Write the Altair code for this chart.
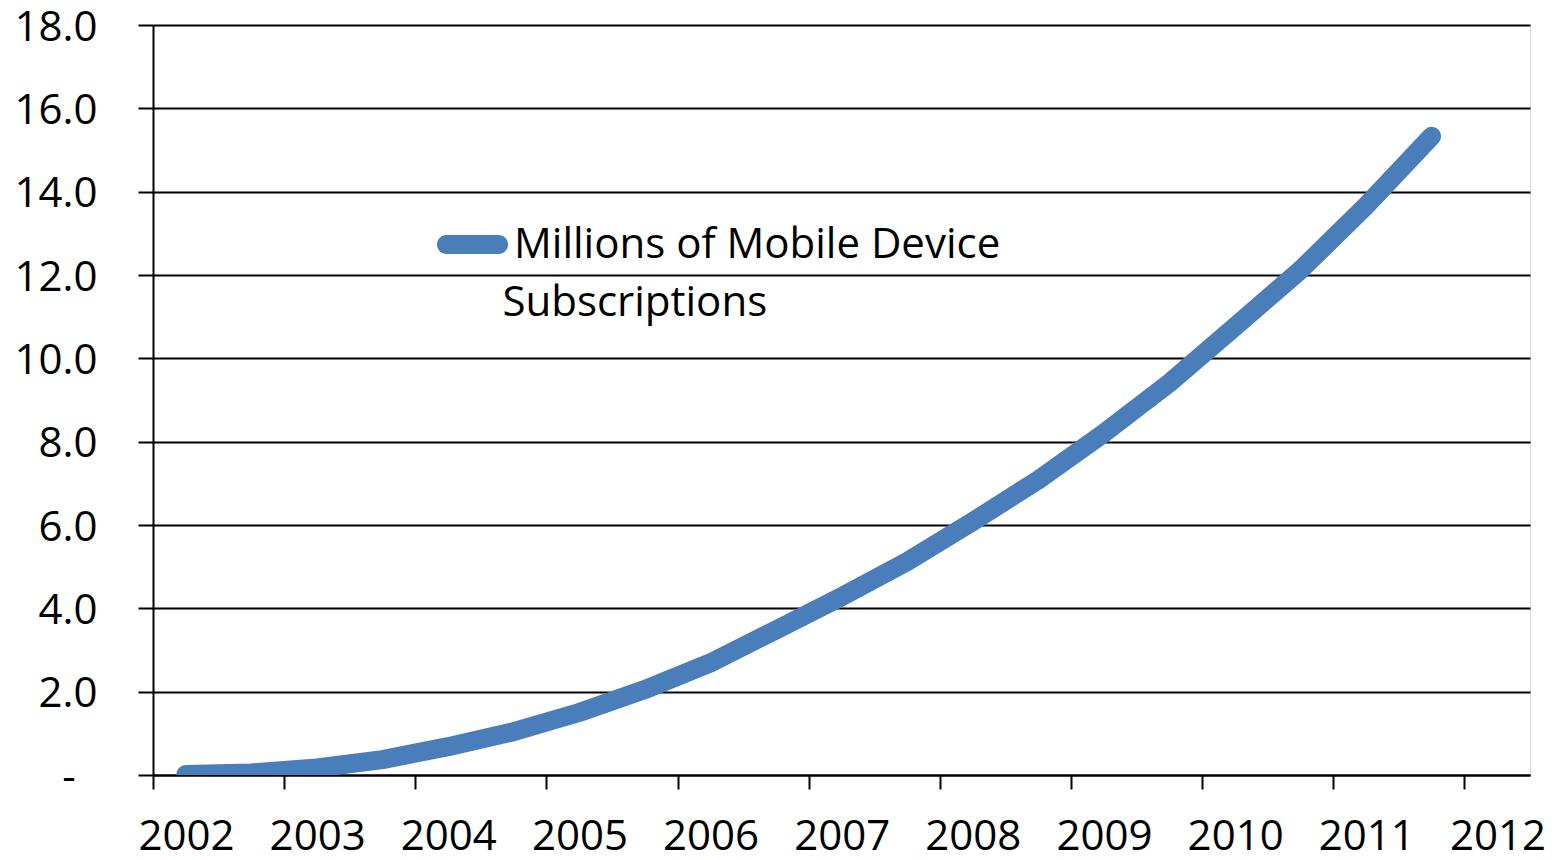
import altair as alt
import pandas as pd

# Data (half-year points)
years = [2002.25, 2002.75, 2003.25, 2003.75, 2004.25, 2004.75, 2005.25, 2005.75,
         2006.25, 2006.75, 2007.25, 2007.75, 2008.25, 2008.75, 2009.25, 2009.75,
         2010.25, 2010.75, 2011.25, 2011.75]
subscriptions = [0.01, 0.05, 0.17, 0.37, 0.68, 1.04, 1.50, 2.05,
                 2.69, 3.48, 4.28, 5.12, 6.08, 7.08, 8.20, 9.41,
                 10.76, 12.12, 13.66, 15.33]
series_label_line1 = "Millions of Mobile Device"
series_label_line2 = "Subscriptions"
x_ticks = [2002, 2003, 2004, 2005, 2006, 2007, 2008, 2009, 2010, 2011, 2012]
y_ticks = [0, 2, 4, 6, 8, 10, 12, 14, 16, 18]

df = pd.DataFrame({"year": years, "value": subscriptions, "series": series_label_line1})

FONT = "Open Sans"
BLUE = "#4a7ebb"
ZW = "\u200b"      # zero-width char keeps the non-breaking spaces from being trimmed
NB = "\u00a0"

# rounded-bar legend symbol (unit coords, scaled by sqrt(size)/2)
STADIUM = ("M-0.732,-0.268 L0.732,-0.268 A0.268,0.268 0 0 1 0.732,0.268 "
           "L-0.732,0.268 A0.268,0.268 0 0 1 -0.732,-0.268 Z")

chart = alt.Chart(df).mark_line(
    strokeWidth=19, strokeCap="round", strokeJoin="round", clip=True
).encode(
    x=alt.X(
        "year:Q",
        scale=alt.Scale(domain=[2002, 2012.5], nice=False, zero=False),
        axis=alt.Axis(
            title=None, values=x_ticks, format="d", grid=False,
            labelFont=FONT, labelFontSize=42, labelColor="black",
            labelOffset=33, labelPadding=27, labelFlush=False, labelOverlap=False,
            tickSize=14, tickWidth=2, tickColor="black",
            domainColor="black", domainWidth=2,
        ),
    ),
    y=alt.Y(
        "value:Q",
        scale=alt.Scale(domain=[0, 18], nice=False),
        axis=alt.Axis(
            title=None, values=y_ticks,
            labelExpr=f"datum.value == 0 ? '-{NB}{NB}{ZW}' : format(datum.value, '.1f')",
            labelFont=FONT, labelFontSize=42, labelColor="black",
            labelPadding=41, labelOffset=2, labelFlush=False, labelOverlap=False,
            tickSize=15, tickWidth=2, tickColor="black",
            grid=True, gridColor="black", gridWidth=2,
            domainColor="black", domainWidth=2,
        ),
    ),
    color=alt.Color(
        "series:N",
        scale=alt.Scale(range=[BLUE]),
        legend=alt.Legend(
            title=ZW + NB * 6 + series_label_line2,
            titleOrient="bottom",
            titleAnchor="start",
            titleAlign="left",
            titleFont=FONT,
            titleFontSize=42,
            titleFontWeight="normal",
            titleColor="black",
            titleLimit=0,
            titlePadding=17,
            orient="none",
            legendX=284,
            legendY=184,
            padding=0,
            symbolType=STADIUM,
            symbolSize=5041,
            symbolStrokeWidth=0,
            symbolFillColor=BLUE,
            labelFont=FONT,
            labelFontSize=42,
            labelColor="black",
            labelBaseline="middle",
            labelOffset=6,
            labelLimit=0,
        ),
    ),
).properties(
    width=1377,
    height=750,
    autosize=alt.AutoSizeParams(type="none"),
    padding={"left": 145, "top": 17, "right": 25, "bottom": 77},
).configure_view(
    stroke=None
).configure(
    background="white"
)

chart.save("out.html", embed_options={"renderer": "svg", "actions": False})
